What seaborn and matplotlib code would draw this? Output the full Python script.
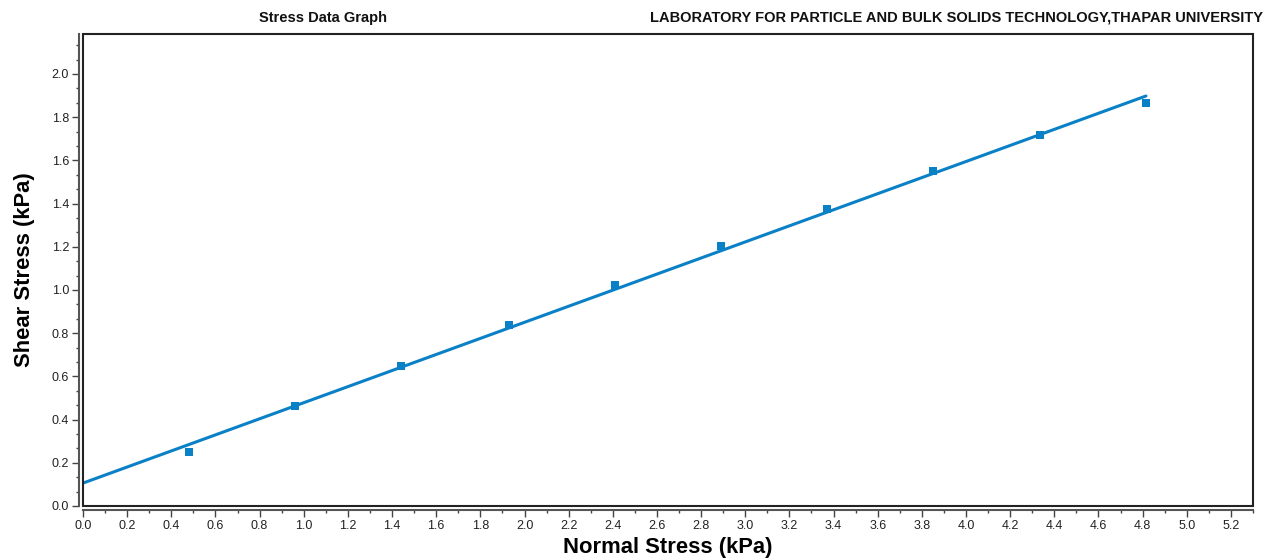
import matplotlib
matplotlib.use("Agg")
import matplotlib.pyplot as plt
from matplotlib.ticker import MultipleLocator, AutoMinorLocator
from matplotlib.patches import Rectangle
import seaborn as sns
import pandas as pd

# data
normal_stress = [0.48, 0.96, 1.44, 1.93, 2.41, 2.89, 3.37, 3.85, 4.335, 4.815]
shear_stress = [0.25, 0.463, 0.648, 0.838, 1.023, 1.204, 1.375, 1.551, 1.718, 1.866]
fit_x = [0.0, 4.815]
fit_y = [0.106, 1.898]

title_left = "Stress Data Graph"
title_right = "LABORATORY FOR PARTICLE AND BULK SOLIDS TECHNOLOGY,THAPAR UNIVERSITY"
xlabel = "Normal Stress (kPa)"
ylabel = "Shear Stress (kPa)"

sns.set_theme(style="white")
plt.rcParams['font.family'] = ['Liberation Sans', 'DejaVu Sans']

blue = "#0a80c6"
fig = plt.figure(figsize=(12.76, 5.6), dpi=100)
ax = fig.add_axes([83/1276, 1-506/560, (1253-83)/1276, (506-34)/560])

pts = pd.DataFrame({"x": normal_stress, "y": shear_stress})
fit = pd.DataFrame({"x": fit_x, "y": fit_y})
sns.lineplot(data=fit, x="x", y="y", ax=ax, color=blue, linewidth=2.2, zorder=2)
sns.scatterplot(data=pts, x="x", y="y", ax=ax, color=blue, marker="s", s=30,
                edgecolor="none", linewidth=0, zorder=3)

ax.set_xlim(0, 5.3)
ax.set_ylim(0, 2.185)
ax.xaxis.set_major_locator(MultipleLocator(0.2))
ax.xaxis.set_minor_locator(AutoMinorLocator(2))
ax.yaxis.set_major_locator(MultipleLocator(0.2))
ax.yaxis.set_minor_locator(AutoMinorLocator(3))
ax.set_xticklabels([f"{v:.1f}" for v in ax.get_xticks()])
ax.set_yticklabels([f"{v:.1f}" for v in ax.get_yticks()])
ax.set_xlim(0, 5.3)
ax.set_ylim(0, 2.185)

for s in ["top", "right"]:
    ax.spines[s].set_visible(False)
for s in ["left", "bottom"]:
    ax.spines[s].set_position(("outward", 3))
    ax.spines[s].set_color("#555555")
    ax.spines[s].set_linewidth(1.5)

ax.add_patch(Rectangle((0, 0), 1, 1, transform=ax.transAxes, fill=False,
                       edgecolor="#222222", linewidth=1.5, clip_on=False, zorder=5))

ax.tick_params(axis="both", which="major", direction="out", length=5, width=1,
               color="#444444", labelsize=9, labelcolor="#222222", pad=2,
               left=True, bottom=True)
ax.tick_params(axis="both", which="minor", direction="out", length=2.5, width=1,
               color="#444444", left=True, bottom=True)

ax.set_xlabel(xlabel, fontsize=15.8, fontweight="bold", color="black", labelpad=4)
ax.set_ylabel(ylabel, fontsize=15.8, fontweight="bold", color="black", labelpad=12)

fig.text(323/1276, 1-18/560, title_left, ha="center", va="center",
         fontsize=10.5, fontweight="bold", color="#111111")
fig.text(1263/1276, 1-18/560, title_right, ha="right", va="center",
         fontsize=10.5, fontweight="bold", color="#111111")

fig.savefig("out.png", dpi=100, facecolor="white")
